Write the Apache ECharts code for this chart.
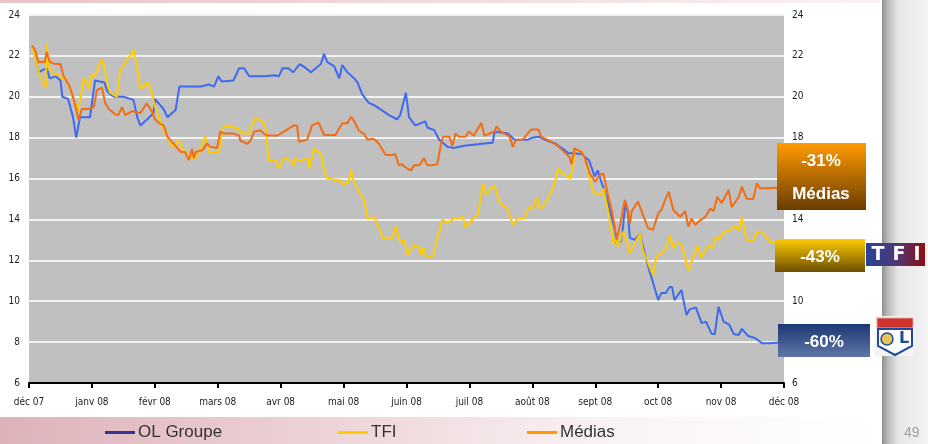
<!DOCTYPE html>
<html>
<head>
<meta charset="utf-8">
<script src="https://cdn.jsdelivr.net/npm/echarts@6/dist/echarts.min.js"></script>
<style>
  html, body { margin: 0; padding: 0; background: #fff; }
  #chart { width: 928px; height: 444px; }
</style>
</head>
<body>
<div id="chart"></div>
<script>
// month labels on the x axis (one tick per month)
const months = ['déc 07', 'janv 08', 'févr 08', 'mars 08', 'avr 08', 'mai 08', 'juin 08',
  'juil 08', 'août 08', 'sept 08', 'oct 08', 'nov 08', 'déc 08'];

// [months since déc 07, price]
const olGroupe = [
  [0.05, 22.5], [0.1, 22.0], [0.15, 21.2], [0.28, 21.4], [0.33, 20.9], [0.42, 21.0], [0.5, 20.8],
  [0.53, 20.0], [0.62, 19.9], [0.7, 19.0], [0.75, 18.0], [0.81, 19.0], [0.97, 19.0], [1.05, 20.8],
  [1.2, 20.7], [1.24, 20.3], [1.3, 20.1], [1.36, 20.0], [1.5, 20.0], [1.66, 19.85], [1.72, 19.0],
  [1.77, 18.6], [1.88, 18.9], [1.98, 19.2], [2.0, 19.9], [2.14, 19.4], [2.2, 19.0], [2.33, 19.35],
  [2.39, 20.5], [2.55, 20.5], [2.73, 20.5], [2.86, 20.6], [2.94, 20.5], [3.01, 21.0], [3.06, 20.75],
  [3.25, 20.8], [3.34, 21.4], [3.42, 21.4], [3.5, 21.0], [3.75, 21.0], [3.9, 21.05], [3.97, 21.0],
  [4.03, 21.4], [4.12, 21.4], [4.2, 21.2], [4.3, 21.6], [4.38, 21.45], [4.48, 21.2], [4.64, 21.6],
  [4.69, 22.1], [4.74, 21.7], [4.85, 21.5], [4.93, 20.9], [4.98, 21.55], [5.06, 21.2], [5.17, 20.9],
  [5.22, 20.7], [5.3, 20.1], [5.4, 19.7], [5.48, 19.6], [5.58, 19.4], [5.72, 19.1], [5.85, 18.9],
  [5.9, 19.1], [5.99, 20.2], [6.04, 19.0], [6.14, 18.6], [6.3, 18.8], [6.33, 18.5], [6.44, 18.37],
  [6.52, 17.9], [6.65, 17.55], [6.76, 17.5], [6.92, 17.6], [7.2, 17.7], [7.37, 17.75], [7.4, 18.3],
  [7.61, 18.2], [7.72, 17.9], [7.93, 17.9], [8.0, 18.0], [8.1, 18.05], [8.2, 17.9], [8.37, 17.7],
  [8.51, 17.4], [8.57, 17.25], [8.78, 17.2], [8.9, 16.9], [8.99, 16.1], [9.04, 16.4], [9.08, 16.0],
  [9.18, 15.1], [9.26, 14.1], [9.31, 13.5], [9.34, 12.83], [9.4, 12.9], [9.43, 13.3], [9.48, 14.87],
  [9.52, 14.3], [9.55, 13.1], [9.63, 13.0], [9.71, 13.3], [9.76, 12.66], [9.82, 11.93], [9.89, 11.2],
  [10.0, 10.06], [10.05, 10.4], [10.12, 10.4], [10.18, 10.7], [10.22, 10.7], [10.26, 10.06],
  [10.37, 10.55], [10.45, 9.32], [10.5, 9.6], [10.6, 9.7], [10.69, 8.93], [10.76, 9.0], [10.85, 8.4],
  [10.9, 8.4], [10.96, 9.73], [11.04, 9.0], [11.13, 8.85], [11.2, 8.4], [11.28, 8.35], [11.33, 8.65],
  [11.43, 8.3], [11.54, 8.2], [11.65, 7.95], [11.76, 7.95], [11.94, 7.98]
];

const tfi = [
  [0.05, 22.5], [0.1, 21.9], [0.15, 21.25], [0.23, 20.6], [0.27, 20.5], [0.28, 22.6], [0.31, 21.5],
  [0.39, 21.1], [0.47, 21.1], [0.52, 20.9], [0.58, 20.95], [0.65, 20.5], [0.71, 19.8], [0.76, 19.5],
  [0.78, 19.3], [0.81, 19.8], [0.87, 20.9], [0.91, 20.75], [0.95, 20.4], [1.0, 21.1], [1.05, 21.0],
  [1.1, 21.5], [1.16, 21.8], [1.19, 21.6], [1.23, 20.8], [1.29, 20.2], [1.4, 20.0], [1.45, 21.3],
  [1.5, 21.5], [1.55, 21.8], [1.64, 22.1], [1.66, 22.3], [1.72, 21.4], [1.77, 20.4], [1.82, 20.5],
  [1.88, 20.7], [1.93, 20.45], [2.0, 19.5], [2.09, 18.8], [2.17, 18.2], [2.25, 17.72], [2.3, 17.55],
  [2.38, 17.9], [2.44, 17.45], [2.52, 17.15], [2.59, 16.98], [2.62, 17.2], [2.65, 17.0], [2.7, 17.3],
  [2.8, 18.05], [2.86, 17.3], [2.94, 17.25], [3.02, 17.3], [3.06, 18.2], [3.1, 18.6], [3.18, 18.5],
  [3.23, 18.6], [3.28, 18.4], [3.32, 18.5], [3.38, 18.2], [3.5, 18.2], [3.54, 18.6], [3.6, 18.95],
  [3.71, 18.8], [3.76, 18.5], [3.81, 16.9], [3.92, 16.9], [3.97, 16.5], [4.05, 17.0], [4.16, 16.9],
  [4.21, 16.65], [4.24, 17.0], [4.3, 16.85], [4.43, 17.0], [4.46, 16.5], [4.53, 17.48], [4.64, 17.2],
  [4.69, 16.4], [4.74, 16.0], [4.95, 15.9], [5.0, 15.7], [5.08, 15.85], [5.12, 16.4], [5.16, 15.9],
  [5.25, 15.3], [5.33, 14.95], [5.38, 14.05], [5.5, 14.1], [5.62, 13.1], [5.78, 13.1], [5.83, 13.65],
  [5.9, 12.85], [5.96, 13.0], [6.02, 12.26], [6.12, 12.75], [6.2, 12.65], [6.23, 12.26], [6.27, 12.6],
  [6.31, 12.2], [6.42, 12.22], [6.57, 14.0], [6.65, 13.8], [6.75, 14.05], [6.86, 14.05], [6.9, 14.15],
  [6.93, 13.6], [7.04, 13.97], [7.14, 14.3], [7.21, 15.77], [7.27, 15.2], [7.4, 15.68], [7.48, 14.8],
  [7.6, 14.56], [7.69, 13.73], [7.77, 14.05], [7.88, 14.05], [7.94, 14.6], [8.02, 14.56], [8.07, 15.1],
  [8.11, 14.6], [8.16, 14.56], [8.24, 15.0], [8.35, 15.68], [8.41, 16.5], [8.46, 16.3], [8.6, 16.0],
  [8.65, 16.6], [8.67, 17.48], [8.78, 17.3], [8.83, 17.0], [8.89, 16.3], [8.97, 15.3], [9.07, 15.2],
  [9.13, 15.5], [9.2, 14.46], [9.29, 12.83], [9.33, 13.1], [9.36, 12.65], [9.44, 13.4], [9.5, 12.97],
  [9.55, 12.34], [9.63, 12.85], [9.71, 13.3], [9.76, 12.45], [9.84, 11.85], [9.92, 11.28], [9.97, 12.18],
  [10.05, 12.34], [10.13, 12.59], [10.19, 13.24], [10.24, 12.6], [10.32, 12.9], [10.37, 12.75],
  [10.43, 12.1], [10.48, 11.5], [10.53, 11.9], [10.62, 12.7], [10.69, 12.15], [10.8, 12.75],
  [10.87, 12.6], [10.92, 13.15], [10.97, 13.0], [11.04, 13.4], [11.14, 13.45], [11.23, 13.7],
  [11.28, 13.45], [11.33, 14.1], [11.41, 13.0], [11.52, 13.0], [11.57, 13.4], [11.65, 13.4],
  [11.72, 13.15], [11.78, 12.9], [11.86, 12.9], [11.94, 12.85]
];

const medias = [
  [0.05, 22.5], [0.1, 22.26], [0.15, 21.7], [0.25, 21.7], [0.28, 22.2], [0.33, 21.7], [0.42, 21.6],
  [0.5, 21.6], [0.55, 21.0], [0.63, 20.6], [0.68, 20.2], [0.73, 19.65], [0.79, 18.86], [0.84, 19.4],
  [0.95, 19.4], [1.03, 19.5], [1.08, 20.33], [1.16, 20.45], [1.21, 19.7], [1.27, 19.4], [1.37, 19.15],
  [1.42, 19.1], [1.48, 19.5], [1.53, 19.1], [1.64, 19.3], [1.77, 19.2], [1.87, 19.68], [1.95, 19.3],
  [2.0, 18.9], [2.07, 18.7], [2.14, 18.6], [2.2, 18.05], [2.3, 17.7], [2.41, 17.3], [2.48, 17.3],
  [2.54, 16.9], [2.59, 17.45], [2.62, 17.0], [2.65, 17.3], [2.76, 17.4], [2.83, 17.72], [2.88, 17.55],
  [2.99, 17.5], [3.04, 18.3], [3.1, 18.2], [3.25, 18.2], [3.34, 18.1], [3.36, 17.85], [3.47, 17.7],
  [3.52, 17.85], [3.58, 18.3], [3.68, 18.35], [3.73, 18.2], [3.79, 18.1], [3.95, 18.1], [4.0, 18.2],
  [4.21, 18.6], [4.26, 18.6], [4.29, 17.8], [4.42, 17.9], [4.5, 18.6], [4.6, 18.75], [4.69, 18.13],
  [4.87, 18.13], [4.98, 18.7], [5.06, 18.7], [5.12, 19.02], [5.17, 18.8], [5.24, 18.35], [5.32, 18.2],
  [5.38, 17.9], [5.45, 17.95], [5.5, 17.9], [5.56, 17.7], [5.67, 17.15], [5.78, 17.15], [5.82, 17.2],
  [5.88, 16.65], [5.93, 16.7], [5.98, 16.55], [6.07, 16.4], [6.12, 16.65], [6.2, 16.65], [6.28, 17.0],
  [6.33, 16.65], [6.41, 16.65], [6.49, 16.7], [6.55, 17.72], [6.58, 18.05], [6.68, 18.05], [6.73, 17.6],
  [6.78, 18.2], [6.83, 18.05], [6.94, 18.05], [6.99, 18.3], [7.07, 18.1], [7.19, 18.73], [7.24, 18.1],
  [7.4, 18.3], [7.43, 18.55], [7.5, 18.3], [7.64, 18.05], [7.69, 17.55], [7.74, 17.9], [7.85, 17.9],
  [7.98, 18.4], [8.1, 18.4], [8.14, 18.05], [8.3, 17.8], [8.4, 17.6], [8.51, 17.3], [8.59, 17.05],
  [8.62, 16.7], [8.67, 17.48], [8.78, 17.3], [8.83, 17.05], [8.91, 16.25], [9.0, 15.85], [9.08, 16.2],
  [9.13, 16.25], [9.2, 15.25], [9.26, 14.46], [9.31, 13.65], [9.34, 13.0], [9.4, 13.8], [9.47, 14.95],
  [9.52, 14.46], [9.55, 13.8], [9.58, 14.4], [9.68, 14.87], [9.73, 14.46], [9.79, 13.97], [9.84, 13.57],
  [9.92, 13.5], [10.0, 14.3], [10.05, 14.46], [10.1, 14.87], [10.17, 15.36], [10.24, 14.46],
  [10.35, 14.13], [10.43, 14.4], [10.48, 13.65], [10.53, 14.05], [10.59, 13.73], [10.67, 13.97],
  [10.75, 14.13], [10.83, 14.54], [10.88, 14.4], [10.94, 15.1], [11.01, 14.8], [11.12, 15.44],
  [11.17, 14.6], [11.28, 15.1], [11.33, 15.6], [11.41, 15.0], [11.51, 15.0], [11.57, 15.77],
  [11.62, 15.53], [11.75, 15.53], [11.85, 15.55], [11.94, 15.45]
];

// variation labels shown in the boxes on the right
const changes = { medias: '-31%', tfi: '-43%', ol: '-60%' };

const axisFont = 'DejaVu Sans Condensed, Liberation Sans Narrow, Arial Narrow, Liberation Sans, sans-serif';
const boxFont = 'Liberation Sans, Arial, sans-serif';
const grad = (a, b) => new echarts.graphic.LinearGradient(0, 0, 0, 1, [
  { offset: 0, color: a }, { offset: 1, color: b }
]);

const chart = echarts.init(document.getElementById('chart'), null, { renderer: 'canvas' });

const legendBase = {
  top: 424,
  padding: 0,
  icon: 'rect',
  itemWidth: 30,
  itemHeight: 3,
  itemGap: 0,
  textStyle: { fontFamily: boxFont, fontSize: 17, color: '#333', padding: [0, 0, 0, -2] }
};

const boxText = (x, y, text) => ({
  type: 'text', silent: true, z: 120, x: x, y: y,
  style: { text: text, fill: '#fff', fontSize: 17, fontWeight: 'bold', fontFamily: boxFont,
    align: 'center', verticalAlign: 'middle' }
});

const option = {
  backgroundColor: '#fff',
  animation: false,
  grid: {
    left: 29, right: 144, top: 15, bottom: 61,
    show: true, backgroundColor: '#C0C0C0', borderWidth: 0
  },
  legend: [
    Object.assign({ left: 105, data: [{ name: 'OL Groupe', itemStyle: { color: '#333399' } }] }, legendBase),
    Object.assign({ left: 338, data: [{ name: 'TFI', itemStyle: { color: '#FFCC00' } }] }, legendBase),
    Object.assign({ left: 527, data: [{ name: 'Médias', itemStyle: { color: '#FF9900' } }] }, legendBase)
  ],
  xAxis: {
    type: 'value',
    min: 0, max: 12, interval: 1,
    axisLine: { show: true, onZero: false, lineStyle: { color: '#000', width: 2 } },
    axisTick: { show: true, length: 5, lineStyle: { color: '#000', width: 2 } },
    splitLine: { show: false },
    axisLabel: {
      margin: 14, fontSize: 10, color: '#222', fontFamily: axisFont,
      showMinLabel: true, showMaxLabel: true,
      formatter: v => months[Math.round(v)]
    }
  },
  yAxis: [
    {
      type: 'value', min: 6, max: 24, interval: 2, position: 'left',
      axisLine: { show: false }, axisTick: { show: false },
      splitLine: { show: true, lineStyle: { color: '#F2F2F2', width: 2 } },
      axisLabel: { margin: 9, fontSize: 10, color: '#222', fontFamily: axisFont }
    },
    {
      type: 'value', min: 6, max: 24, interval: 2, position: 'right',
      axisLine: { show: false }, axisTick: { show: false },
      splitLine: { show: false },
      axisLabel: { margin: 8, fontSize: 10, color: '#222', fontFamily: axisFont }
    }
  ],
  series: [
    { name: 'OL Groupe', type: 'line', data: olGroupe, showSymbol: false, color: '#3D6AF0', lineStyle: { width: 2 } },
    { name: 'TFI', type: 'line', data: tfi, showSymbol: false, color: '#FFCC00', lineStyle: { width: 2 } },
    { name: 'Médias', type: 'line', data: medias, showSymbol: false, color: '#F36D15', lineStyle: { width: 2 } }
  ],
  graphic: [
    // page decorations
    { type: 'rect', silent: true, z: -10, shape: { x: 0, y: 0, width: 880, height: 3 },
      style: { fill: new echarts.graphic.LinearGradient(0, 0, 1, 0, [
        { offset: 0, color: '#E8C4C9' }, { offset: 1, color: '#FBF2F3' }]) } },
    { type: 'rect', silent: true, z: -10, shape: { x: 0, y: 417, width: 880, height: 27 },
      style: { fill: new echarts.graphic.LinearGradient(0, 0, 1, 0, [
        { offset: 0, color: '#DDB2B9' }, { offset: 0.4, color: '#EED6DA' },
        { offset: 0.7, color: '#FAF3F4' }, { offset: 1, color: '#FFFFFF' }]) } },
    { type: 'rect', silent: true, z: -10, shape: { x: 882, y: 0, width: 46, height: 444 },
      style: { fill: new echarts.graphic.LinearGradient(0, 0, 1, 0, [
        { offset: 0, color: '#8E8E8E' }, { offset: 0.12, color: '#B8B8B8' },
        { offset: 0.35, color: '#E6E6E6' }, { offset: 1, color: '#F4F4F4' }]) } },
    { type: 'text', silent: true, x: 904, y: 426,
      style: { text: '49', fill: '#A0A0A0', fontSize: 14, fontFamily: boxFont } },

    // Médias box
    { type: 'rect', silent: true, z: 110, shape: { x: 777, y: 143, width: 89, height: 67 },
      style: { fill: grad('#FF9A00', '#6A3C00') } },
    boxText(821, 161, changes.medias),
    boxText(821, 194, 'Médias'),

    // TFI box
    { type: 'rect', silent: true, z: 110, shape: { x: 775, y: 239, width: 90, height: 33 },
      style: { fill: grad('#FFCC00', '#6C4E00') } },
    boxText(820, 257, changes.tfi),

    // OL box
    { type: 'rect', silent: true, z: 110, shape: { x: 778, y: 324, width: 92, height: 33 },
      style: { fill: grad('#1C3874', '#5E77A8') } },
    boxText(824, 342, changes.ol),

    // TF1 logo
    { type: 'rect', silent: true, z: 110, shape: { x: 866, y: 243, width: 59, height: 23 },
      style: { fill: new echarts.graphic.LinearGradient(0, 0, 1, 0, [
        { offset: 0, color: '#2B4294' }, { offset: 0.5, color: '#4A3A7A' }, { offset: 1, color: '#8C0E12' }]) } },
    { type: 'text', silent: true, z: 120, x: 878, y: 255,
      style: { text: 'T', fill: '#fff', fontSize: 19, fontWeight: 'bold', fontFamily: 'DejaVu Sans, sans-serif',
        align: 'center', verticalAlign: 'middle' } },
    { type: 'text', silent: true, z: 120, x: 899, y: 255,
      style: { text: 'F', fill: '#fff', fontSize: 19, fontWeight: 'bold', fontFamily: 'DejaVu Sans, sans-serif',
        align: 'center', verticalAlign: 'middle' } },
    { type: 'text', silent: true, z: 120, x: 917, y: 255,
      style: { text: 'I', fill: '#fff', fontSize: 19, fontWeight: 'bold', fontFamily: 'DejaVu Sans, sans-serif',
        align: 'center', verticalAlign: 'middle' } },

    // OL logo
    { type: 'rect', silent: true, z: 110, shape: { x: 875, y: 316, width: 40, height: 40 },
      style: { fill: '#F6F2F2' } },
    { type: 'rect', silent: true, z: 111, shape: { x: 877, y: 318, width: 36, height: 10 },
      style: { fill: '#D0342C', stroke: '#E8A0A0', lineWidth: 1 } },
    { type: 'polygon', silent: true, z: 111,
      shape: { points: [[878, 329], [912, 329], [912, 346], [895, 355], [878, 346]] },
      style: { fill: '#fff', stroke: '#1F4A9C', lineWidth: 2 } },
    { type: 'circle', silent: true, z: 112, shape: { cx: 887, cy: 339, r: 6 },
      style: { fill: '#E9C25A', stroke: '#1F4A9C', lineWidth: 1.5 } },
    { type: 'text', silent: true, z: 112, x: 904, y: 339,
      style: { text: 'L', fill: '#1F4A9C', fontSize: 16, fontWeight: 'bold', fontFamily: 'DejaVu Sans, sans-serif',
        align: 'center', verticalAlign: 'middle' } }
  ]
};

chart.setOption(option);
</script>
</body>
</html>
